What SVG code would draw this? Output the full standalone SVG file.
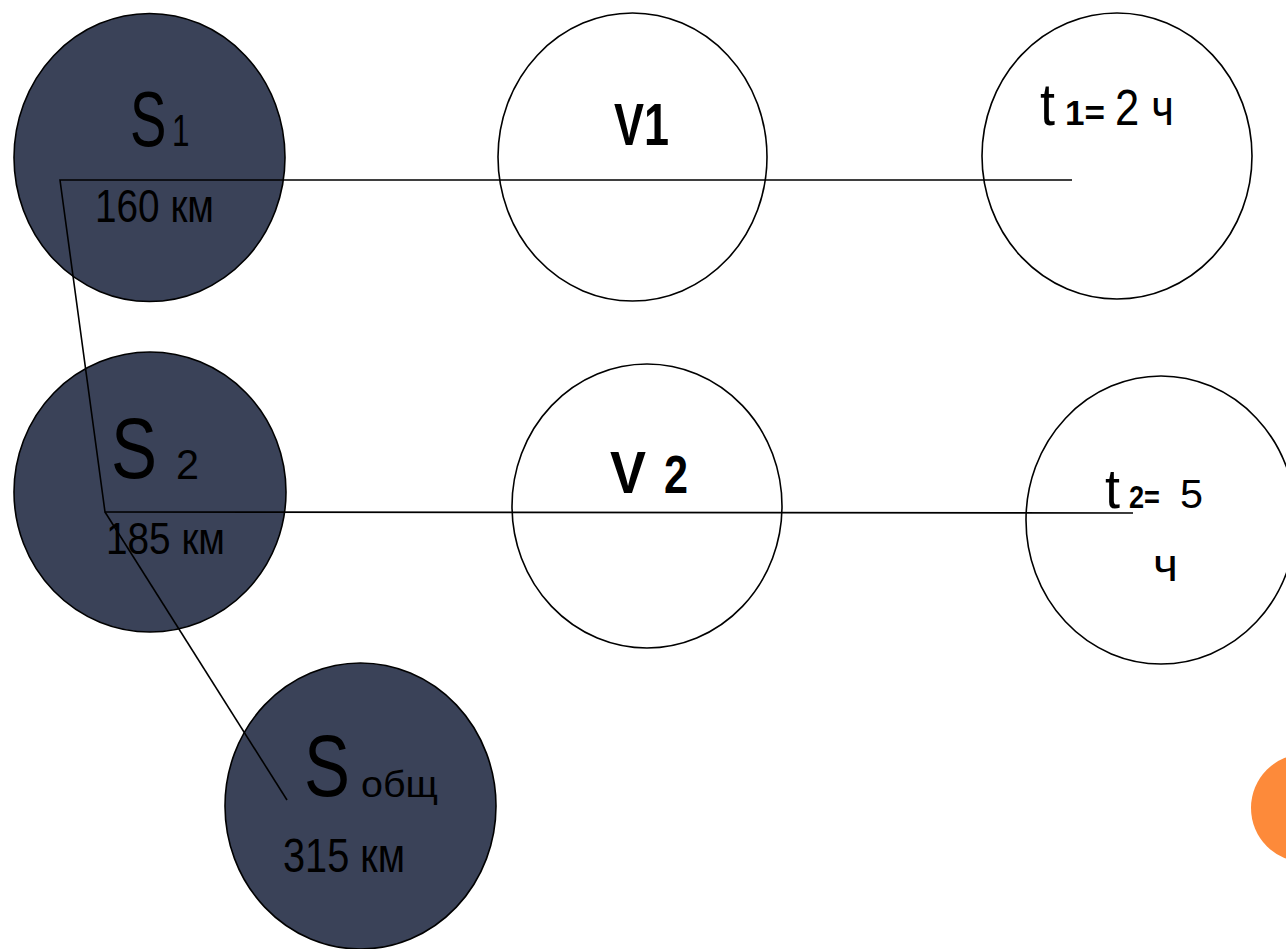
<svg xmlns="http://www.w3.org/2000/svg" width="1286" height="949" viewBox="0 0 1286 949">
<style>
.dark{fill:#3a4258;stroke:#000;stroke-width:1.6}
.light{fill:#fff;stroke:#000;stroke-width:1.6}
text{font-family:"Liberation Sans",Arial,sans-serif;fill:#000}
.b{font-weight:bold}
.c{fill:none;stroke:#000;stroke-width:1.6}
</style>
<rect width="1286" height="949" fill="#fff"/>
<g id="node-s1">
<ellipse class="dark" cx="149.5" cy="157.5" rx="135.5" ry="144"/>
<text transform="translate(130,146) scale(0.7,1)" font-size="78">S<tspan font-size="45" dx="8">1</tspan></text>
<text x="95" y="222" font-size="47" textLength="119" lengthAdjust="spacingAndGlyphs">160 км</text>
</g>
<g id="node-v1">
<ellipse class="light" cx="632.5" cy="157" rx="134.5" ry="144"/>
<text class="b" x="614" y="145" font-size="60" textLength="55" lengthAdjust="spacingAndGlyphs">V1</text>
</g>
<g id="node-t1">
<ellipse class="light" cx="1117" cy="156" rx="135" ry="143"/>
<text x="1040" y="125" font-size="60" textLength="15" lengthAdjust="spacingAndGlyphs">t</text>
<text class="b" x="1065" y="125" font-size="35" textLength="40" lengthAdjust="spacingAndGlyphs">1=</text>
<text x="1115" y="125" font-size="50" textLength="59" lengthAdjust="spacingAndGlyphs">2 ч</text>
</g>
<g id="node-s2">
<ellipse class="dark" cx="150" cy="492" rx="136" ry="140"/>
<text x="111" y="478" font-size="85" textLength="46" lengthAdjust="spacingAndGlyphs">S</text>
<text x="176" y="479" font-size="43" textLength="23" lengthAdjust="spacingAndGlyphs">2</text>
<text x="106" y="554" font-size="44" textLength="119" lengthAdjust="spacingAndGlyphs">185 км</text>
</g>
<g id="node-v2">
<ellipse class="light" cx="647" cy="506" rx="135" ry="142"/>
<text class="b" x="610" y="493" font-size="60" textLength="36" lengthAdjust="spacingAndGlyphs">V</text>
<text class="b" x="664" y="493" font-size="53" textLength="24" lengthAdjust="spacingAndGlyphs">2</text>
</g>
<g id="node-t2">
<ellipse class="light" cx="1161" cy="520" rx="135" ry="144"/>
<text x="1105" y="508" font-size="55" textLength="15" lengthAdjust="spacingAndGlyphs">t</text>
<text class="b" x="1129" y="508" font-size="31" textLength="31" lengthAdjust="spacingAndGlyphs">2=</text>
<text x="1180" y="508" font-size="40" textLength="23" lengthAdjust="spacingAndGlyphs">5</text>
<text x="1153" y="581" font-size="46" textLength="25" lengthAdjust="spacingAndGlyphs">ч</text>
</g>
<g id="node-sobsh">
<ellipse class="dark" cx="360.5" cy="806" rx="135.5" ry="143"/>
<text x="304" y="796" font-size="88" textLength="46" lengthAdjust="spacingAndGlyphs">S</text>
<text x="361" y="797" font-size="36" textLength="77" lengthAdjust="spacingAndGlyphs">общ</text>
<text x="283" y="872" font-size="48" textLength="122" lengthAdjust="spacingAndGlyphs">315 км</text>
</g>
<g id="decor">
<circle cx="1305" cy="808" r="54" fill="#fd8a3a"/>
</g>
<g id="connectors">
<polyline class="c" points="1072,180 60,180 105,512 1133,513"/>
<line class="c" x1="105" y1="512" x2="287" y2="800"/>
</g>
</svg>
